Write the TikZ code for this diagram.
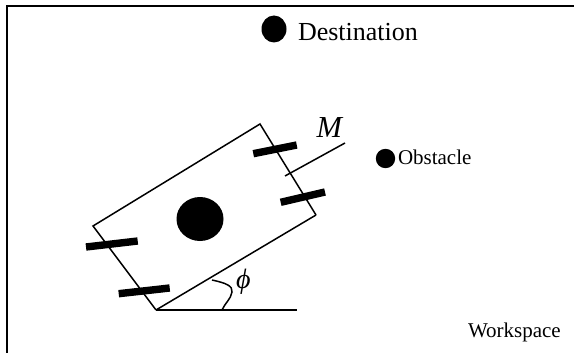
\documentclass[tikz,border=0pt]{standalone}
\usepackage{fontspec}
\setmainfont{Liberation Serif}
\tikzset{
  thinline/.style={line width=1.5pt,black},
  wheel/.style={line width=7.4pt,black},
  dot/.style={fill=black,draw=none},
  lab/.style={anchor=base west,inner sep=0pt,outer sep=0pt}
}
\begin{document}
\begin{tikzpicture}[x=1pt,y=-1pt]
\useasboundingbox (0,0) rectangle (579,353);
\fill[white] (0,0) rectangle (579,353);
% frame
\draw[line width=2pt] (7,353) -- (7,6) -- (574,6);
% destination
\fill[dot] (274,29) ellipse [x radius=12.5,y radius=13.5];
\node[lab,font=\fontsize{26}{28}\selectfont] (dest) at (298,41) {Destination};
% obstacle
\fill[dot] (385.5,158.5) circle (9.7);
\node[lab,font=\fontsize{21}{22}\selectfont] (obst) at (398,164.5) {Obstacle};
% workspace
\node[lab,font=\fontsize{21}{23}\selectfont] (work) at (468,337) {Workspace};
% body
\coordinate (top) at (260,124);
\coordinate (lft) at (93,226);
\coordinate (bot) at (156,310);
\coordinate (rgt) at (316,215);
\draw[thinline,line join=miter] (bot) -- (lft) -- (top) -- (rgt);
\draw[thinline] (bot) -- (rgt);
% centre
\fill[dot] (200,219) ellipse [x radius=23.5,y radius=22];
% wheels
\draw[wheel] (253.3,153.7) -- (296.7,145);
\draw[wheel] (280.7,202.3) -- (325,192);
\draw[wheel] (86,247) -- (137.7,241);
\draw[wheel] (118.7,293.7) -- (169.7,288);
% axis M
\coordinate (m1) at (285,176);
\coordinate (m2) at (345,143);
\draw[thinline] (m1) -- (m2);
\node[lab,font=\fontsize{30.5}{32}\selectfont\itshape] (mlab) at (316.5,137) {M};
% angle
\coordinate (hz) at (297,310);
\draw[line width=1.8pt] (bot) -- (hz);
\draw[thinline] (212,280) .. controls (226,283) and (233,286) .. (232,292) .. controls (231,299) and (225,303) .. (222,310);
\node[lab,font=\fontsize{28}{30}\selectfont\itshape] (phi) at (236,288) {ϕ};
\end{tikzpicture}
\end{document}
